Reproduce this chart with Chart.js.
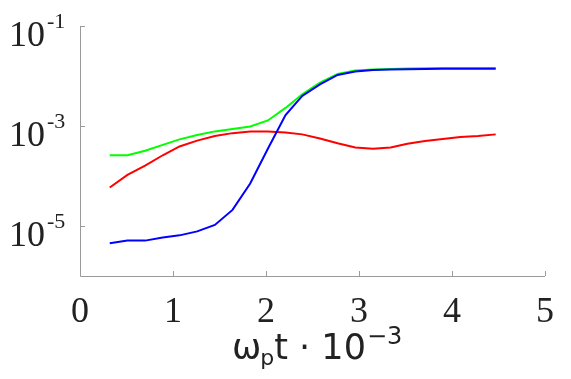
<!DOCTYPE html>
<html><head><meta charset="utf-8">
<script src="https://cdn.jsdelivr.net/npm/chart.js@4"></script>
<style>html,body{margin:0;padding:0;background:#fff}#wrap{width:571px;height:379px}</style>
</head><body><div id="wrap"><canvas id="c" width="571" height="379"></canvas></div>
<script>
const times = [0.32,0.51,0.70,0.89,1.07,1.26,1.45,1.64,1.83,2.02,2.21,2.39,2.58,2.77,2.96,3.15,3.34,3.52,3.71,3.90,4.09,4.28,4.47];
const greenSeries = [2.6e-4,2.6e-4,3.2e-4,4.2e-4,5.4e-4,6.6e-4,7.8e-4,8.7e-4,9.8e-4,1.29e-3,2.3e-3,4.3e-3,7.4e-3,1.1e-2,1.29e-2,1.35e-2,1.38e-2,1.41e-2,1.43e-2,1.44e-2,1.44e-2,1.44e-2,1.44e-2];
const blueSeries = [4.5e-6,5.1e-6,5.1e-6,5.9e-6,6.5e-6,7.8e-6,1.05e-5,2.1e-5,7.1e-5,3.5e-4,1.66e-3,4.0e-3,6.8e-3,1.05e-2,1.23e-2,1.32e-2,1.35e-2,1.37e-2,1.38e-2,1.39e-2,1.40e-2,1.40e-2,1.40e-2];
const redSeries = [5.9e-5,1.05e-4,1.62e-4,2.6e-4,3.9e-4,5.1e-4,6.3e-4,7.2e-4,7.8e-4,7.8e-4,7.4e-4,6.8e-4,5.6e-4,4.5e-4,3.7e-4,3.5e-4,3.7e-4,4.4e-4,5.0e-4,5.5e-4,6.0e-4,6.3e-4,6.8e-4];
const xTicks = [0,1,2,3,4,5];
const yTickExps = [-1,-3,-5];
const xLabel = {main:'ω', sub:'p', rest:'t · 10', sup:'−3'};
const SERIF = '"Liberation Serif"';
const SANS = '"DejaVu Sans"';

function pts(ys){return times.map((t,i)=>({x:t,y:ys[i]}));}

const axisPlugin = {
  id:'axisPlugin',
  afterDraw(chart){
    const ctx = chart.ctx, a = chart.chartArea;
    const xs = chart.scales.x, ys = chart.scales.y;
    ctx.save();
    ctx.strokeStyle = '#9a9a9a';
    ctx.lineWidth = 1;
    ctx.beginPath();
    ctx.moveTo(a.left+0.5, a.top); ctx.lineTo(a.left+0.5, a.bottom+0.5); ctx.lineTo(a.right, a.bottom+0.5);
    xTicks.forEach(v=>{const px=Math.round(xs.getPixelForValue(v))+0.5; ctx.moveTo(px,a.bottom); ctx.lineTo(px,a.bottom-5);});
    yTickExps.forEach(e=>{const py=Math.round(ys.getPixelForValue(Math.pow(10,e)))+0.5; ctx.moveTo(a.left,py); ctx.lineTo(a.left+5,py);});
    ctx.stroke();
    ctx.fillStyle = '#222';
    ctx.font = '36px ' + SERIF;
    ctx.textAlign = 'center'; ctx.textBaseline = 'alphabetic';
    xTicks.forEach(v=>{ctx.fillText(String(v), xs.getPixelForValue(v), a.bottom+46);});
    yTickExps.forEach(e=>{
      const py = ys.getPixelForValue(Math.pow(10,e));
      ctx.textAlign='left';
      ctx.font = '36px ' + SERIF;
      ctx.fillText('10', 9, py+20);
      ctx.font = '22px ' + SERIF;
      ctx.fillText('-'+Math.abs(e), 47, py+2);
    });
    ctx.textAlign='left';
    let x = 232; const base = 359;
    ctx.font = '35px ' + SANS;
    ctx.fillText(xLabel.main, x, base); x += ctx.measureText(xLabel.main).width;
    ctx.font = '22px ' + SANS;
    ctx.fillText(xLabel.sub, x-1, base+6); x += ctx.measureText(xLabel.sub).width - 1;
    ctx.font = '35px ' + SANS;
    ctx.fillText(xLabel.rest, x, base); x += ctx.measureText(xLabel.rest).width;
    ctx.font = '24px ' + SANS;
    ctx.fillText(xLabel.sup, x+1, base-15);
    ctx.restore();
  }
};

new Chart(document.getElementById('c'), {
  type:'line',
  data:{datasets:[
    {data:pts(blueSeries), borderColor:'#0000ff', borderWidth:2, pointRadius:0, fill:false, tension:0},
    {data:pts(redSeries), borderColor:'#ff0000', borderWidth:2, pointRadius:0, fill:false, tension:0},
    {data:pts(greenSeries), borderColor:'#00ff00', borderWidth:2, pointRadius:0, fill:false, tension:0}
  ]},
  options:{
    responsive:false, animation:false,
    layout:{padding:{left:80,right:26,top:26,bottom:103}},
    plugins:{legend:{display:false}, tooltip:{enabled:false}},
    scales:{
      x:{type:'linear', min:0, max:5, ticks:{display:false}, grid:{display:false, drawTicks:false}, border:{display:false}},
      y:{type:'logarithmic', min:1e-6, max:1e-1, ticks:{display:false}, grid:{display:false, drawTicks:false}, border:{display:false}}
    }
  },
  plugins:[axisPlugin]
});
</script></body></html>
